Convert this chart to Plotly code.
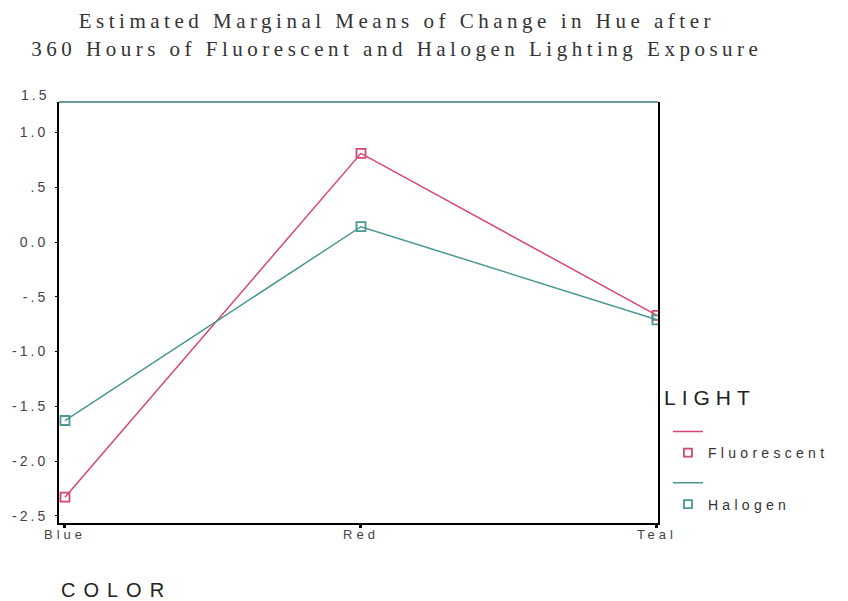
import plotly.graph_objects as go

# ---- data ----
categories = ["Blue", "Red", "Teal"]
fluorescent = [-2.33, 0.81, -0.67]
halogen = [-1.63, 0.14, -0.71]
series_names = ["Fluorescent", "Halogen"]
y_tick_values = [-2.5, -2.0, -1.5, -1.0, -0.5, 0.0, 0.5, 1.0]
y_tick_labels = ["-2.5", "-2.0", "-1.5", "-1.0", "-.5", "0.0", ".5", "1.0"]
top_label = "1.5"
title_lines = ["Estimated Marginal Means of Change in Hue after",
               "360 Hours of Fluorescent and Halogen Lighting Exposure"]
legend_title = "LIGHT"
x_title = "COLOR"

RED = "#d8466f"
TEAL = "#4a9891"


def sp(text, px):
    return f'<span style="letter-spacing:{px}px">{text}</span>'


fig = go.Figure()
for name, vals, col in [(series_names[0], fluorescent, RED), (series_names[1], halogen, TEAL)]:
    fig.add_trace(go.Scatter(
        x=categories, y=vals, mode="lines+markers", name=name,
        line=dict(color=col, width=1.5),
        marker=dict(symbol="square-open", size=9, color=col, line=dict(width=1.8, color=col)),
        showlegend=False, hoverinfo="skip"))
    # legend: line row, then marker row
    fig.add_trace(go.Scatter(
        x=[None], y=[None], mode="lines", name=" ", legendgroup=name,
        line=dict(color=col, width=1.5), showlegend=True))
    fig.add_trace(go.Scatter(
        x=[None], y=[None], mode="markers", name=sp(name, 4.3), legendgroup=name,
        marker=dict(symbol="square-open", size=8, color=col, line=dict(width=1.8, color=col)),
        showlegend=True))

fig.update_layout(
    width=848, height=601,
    margin=dict(l=57, r=190, t=102, b=78),
    paper_bgcolor="white", plot_bgcolor="white",
    font=dict(family="Liberation Sans, Arial, sans-serif", color="#333333"),
    title=dict(
        text=sp(title_lines[0], 4.5) + "<br>" + sp(title_lines[1], 4.5),
        x=0.468, xref="container", xanchor="center",
        y=0.953, yref="container", yanchor="top",
        font=dict(family="Liberation Serif, Times New Roman, serif", size=21, color="#333333")),
    xaxis=dict(
        type="category", range=[-0.0202, 2.0034],
        tickvals=categories, ticktext=[sp(c, 4) for c in categories],
        showline=True, linecolor="black", linewidth=2,
        ticks="outside", ticklen=3, tickwidth=3, tickcolor="black",
        showgrid=False, zeroline=False,
        ticklabelstandoff=-5,
        tickfont=dict(size=13, color="#444444")),
    yaxis=dict(
        range=[-2.566, 1.279],
        tickvals=y_tick_values, ticktext=[sp(t, 3) for t in y_tick_labels],
        showline=True, linecolor="black", linewidth=2, mirror=True,
        ticks="outside", ticklen=2, tickcolor="black",
        showgrid=False, zeroline=False,
        ticklabelstandoff=4,
        tickfont=dict(size=14, color="#444444")),
    legend=dict(
        x=1.0166, xanchor="left", y=0.2545, yanchor="top",
        font=dict(size=14, color="#333333"),
        tracegroupgap=9, bgcolor="rgba(0,0,0,0)"),
    showlegend=True,
)

# top frame line (teal-grey in the reference)
fig.add_shape(type="line", xref="paper", yref="paper", x0=0, x1=1, y0=1, y1=1,
              line=dict(color="#6d9d9a", width=2))

fig.add_annotation(text=sp(top_label, 3), xref="paper", yref="paper", x=0, y=1,
                   xanchor="right", yanchor="middle", xshift=-8, yshift=7,
                   showarrow=False, font=dict(size=14, color="#444444"))
fig.add_annotation(text=sp(legend_title, 6), xref="paper", yref="paper", x=1.0066, y=0.297,
                   xanchor="left", yanchor="middle", showarrow=False,
                   font=dict(size=21, color="#222222"))
fig.add_annotation(text=sp(x_title, 8), xref="paper", yref="paper", x=0.0, y=-0.159,
                   xanchor="left", yanchor="middle", showarrow=False,
                   font=dict(size=20, color="#222222"))

fig.write_html("out.html", config={"displayModeBar": False},
               post_script="document.body.style.margin='0';")
